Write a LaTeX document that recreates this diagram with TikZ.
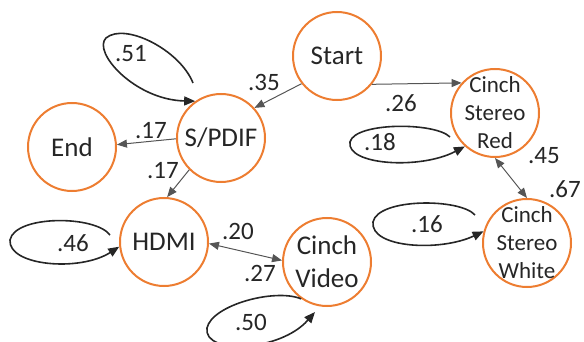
\documentclass[tikz,border=0pt]{standalone}
\usepackage{fontspec}
\setmainfont{Carlito}
\usetikzlibrary{arrows.meta}
\definecolor{stateorange}{RGB}{237,125,49}
\definecolor{inkgray}{RGB}{38,38,38}
\definecolor{edgegray}{RGB}{85,85,85}
\tikzset{
  state/.style={circle, draw=stateorange, line width=2pt, minimum size=88pt,
    inner sep=0pt, text=inkgray, align=center,
    font=\fontsize{27}{33}\selectfont},
  smalltext/.style={text=inkgray, align=center, inner sep=0pt,
    font=\fontsize{23}{28}\selectfont},
  edge/.style={draw=edgegray, line width=1pt, -{Triangle[length=10pt,width=8pt]}},
  twoway/.style={draw=edgegray, line width=1pt,
    {Triangle[length=10pt,width=8pt]}-{Triangle[length=10pt,width=8pt]}},
  selfloop/.style={draw=inkgray, line width=1.6pt, -{Triangle[length=11pt,width=9pt]}},
  prob/.style={text=inkgray, inner sep=0pt, font=\fontsize{25}{30}\selectfont},
}

\begin{document}
\begin{tikzpicture}[x=1pt,y=-1pt]
\useasboundingbox (0,0) rectangle (584,342);

% states
\node[state] (start) at (337,56) {Start};
\node[state] (spdif) at (221,138) {S/PDIF};
\node[state] (end)   at (72,147)  {End};
\node[state] (hdmi)  at (164,242) {HDMI};
\node[state] (video) at (327,262) {Cinch\\Video};
\node[state, label={[smalltext]center:{Cinch\\Stereo\\Red}}]   (red)   at (495,113) {};
\node[state, label={[smalltext]center:{Cinch\\Stereo\\White}}] (white) at (527,243) {};

% transitions between states
\draw[edge] (start.218) -- (spdif.42);
\draw[edge] (start.321) -- (red.138);
\draw[edge] (spdif.181) -- (end.3);
\draw[edge] (spdif.225) -- (hdmi.86);
\draw[twoway] (hdmi.-2) -- (video.178);
\draw[twoway] (red.270) -- (white.90);

% self transitions
\coordinate (spdifloop) at (193,83);
\draw[selfloop] (spdifloop) .. controls (180,50) and (125,22) .. (106,38)
  .. controls (92,52) and (135,100) .. (spdif.125);
\coordinate (hdmiloop) at (110,235);
\draw[selfloop] (hdmiloop) .. controls (95,215) and (15,215) .. (10,240)
  .. controls (8,266) and (80,272) .. (hdmi.186);
\coordinate (redloop) at (450,137);
\draw[selfloop] (redloop) .. controls (435,122) and (355,122) .. (350,142)
  .. controls (346,165) and (420,170) .. (red.228);
\coordinate (whiteloop) at (475,215);
\draw[selfloop] (whiteloop) .. controls (460,198) and (378,198) .. (373,222)
  .. controls (370,248) and (440,252) .. (white.165);
\coordinate (videotip) at (315,312);
\draw[selfloop] (video.235) .. controls (275,288) and (212,305) .. (207,328)
  .. controls (203,355) and (280,352) .. (videotip);

% transition probabilities
\node[prob] (p51) at (131,54)  {.51};
\node[prob] (p35) at (264,82)  {.35};
\node[prob] (p26) at (401,103) {.26};
\node[prob] (p17a) at (151,131) {.17};
\node[prob] (p17b) at (163,171) {.17};
\node[prob] (p18) at (380,142) {.18};
\node[prob] (p45) at (544,156) {.45};
\node[prob] (p67) at (565,189) {.67};
\node[prob] (p16) at (427,224) {.16};
\node[prob] (p46) at (73,243)  {.46};
\node[prob] (p20) at (238,231) {.20};
\node[prob] (p27) at (260,273) {.27};
\node[prob] (p50) at (251,322) {.50};
\end{tikzpicture}
\end{document}
